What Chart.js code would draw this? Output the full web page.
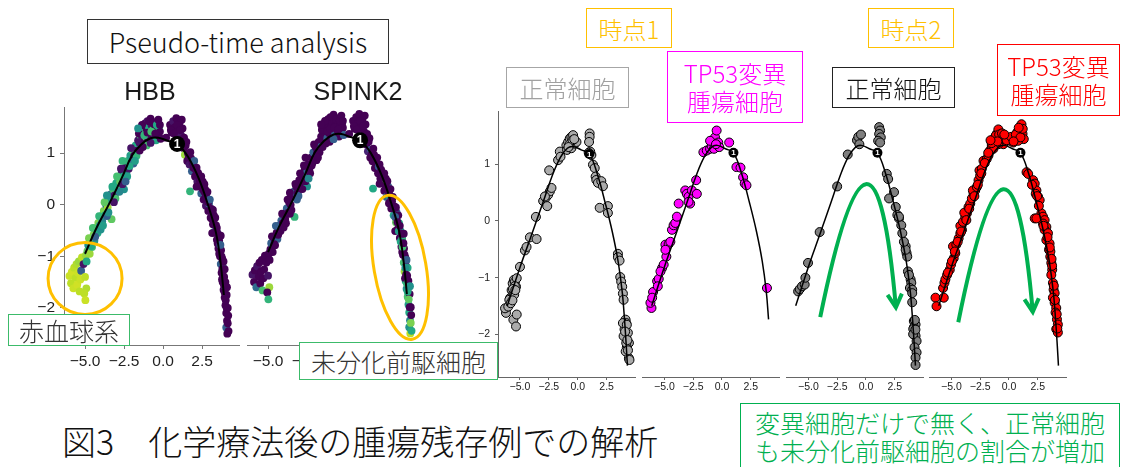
<!DOCTYPE html>
<html>
<head>
<meta charset="utf-8">
<script src="https://cdn.jsdelivr.net/npm/chart.js@4.4.1/dist/chart.umd.min.js"></script>
<style>
html, body { margin: 0; padding: 0; background: #fff; }
#page { position: relative; width: 1122px; height: 467px; overflow: hidden; font-family: "Noto Sans CJK JP", sans-serif; font-weight: 300; }
canvas { position: absolute; }
.box { position: absolute; box-sizing: border-box; display: flex; align-items: center; justify-content: center; text-align: center; background: #fff; white-space: nowrap; }
.lbl { position: absolute; white-space: nowrap; }
</style>
</head>
<body>
<div id="page">
  <canvas id="hbb" width="235" height="282" style="left:14px;top:93px"></canvas>
  <canvas id="spink2" width="195" height="282" style="left:237px;top:93px"></canvas>
  <canvas id="n1" width="173" height="301" style="left:468px;top:100px"></canvas>
  <canvas id="t1" width="148" height="301" style="left:637px;top:100px"></canvas>
  <canvas id="n2" width="148" height="301" style="left:781px;top:100px"></canvas>
  <canvas id="t2" width="148" height="301" style="left:924px;top:100px"></canvas>

  <div class="box" style="left:87px;top:19px;width:302px;height:45px;border:1px solid #333;font-size:27px;color:#111">Pseudo-time analysis</div>
  <div class="lbl" style="left:100px;top:79px;width:100px;text-align:center;font-family:'Liberation Sans';font-size:25px;line-height:25px;color:#1a1a1a">HBB</div>
  <div class="lbl" style="left:308px;top:79px;width:100px;text-align:center;font-family:'Liberation Sans';font-size:25px;line-height:25px;color:#1a1a1a">SPINK2</div>
  <div class="box" style="left:8px;top:314px;width:122px;height:32px;border:1.5px solid #3cbb6a;font-size:25px;color:#333">赤血球系</div>
  <div class="box" style="left:299px;top:342px;width:199px;height:38px;border:1.5px solid #3cbb6a;font-size:25px;color:#333">未分化前駆細胞</div>

  <div class="box" style="left:586px;top:8px;width:86px;height:40px;border:1px solid #ffc000;font-size:24px;color:#ffc000;background:transparent">時点1</div>
  <div class="box" style="left:868px;top:8px;width:86px;height:40px;border:1px solid #ffc000;font-size:24px;color:#ffc000;background:transparent">時点2</div>
  <div class="box" style="left:506px;top:67px;width:123px;height:41px;border:1.5px solid #a6a6a6;font-size:24px;color:#a0a0a0;background:transparent">正常細胞</div>
  <div class="box" style="left:667px;top:51px;width:136px;height:72px;border:1px solid #ff00ff;font-size:24px;line-height:28px;color:#ff00ff;background:transparent">TP53変異<br>腫瘍細胞</div>
  <div class="box" style="left:832px;top:67px;width:123px;height:41px;border:1.5px solid #222;font-size:24px;color:#111;background:transparent">正常細胞</div>
  <div class="box" style="left:997px;top:44px;width:123px;height:72px;border:1px solid #ff0000;font-size:24px;line-height:28px;color:#ff0000;background:transparent">TP53変異<br>腫瘍細胞</div>

  <div class="lbl" style="left:62px;top:421px;font-size:34px;line-height:40px;color:#111">図3　化学療法後の腫瘍残存例での解析</div>
  <div class="box" style="left:740px;top:403px;width:380px;height:70px;border:1px solid #00b050;font-size:25px;line-height:28px;color:#00b050;align-items:flex-start;padding-top:4px">変異細胞だけで無く、正常細胞<br>も未分化前駆細胞の割合が増加</div>
</div>

<script>
// ---- Feature plots: cells on the pseudo-time graph (shared embedding) ----
const leftCells = [
  [-6.0,-1.38],[-5.9,-1.52],[-5.85,-1.3],[-5.7,-1.22],[-5.75,-1.62],[-5.6,-1.42],[-5.55,-1.15],[-5.5,-1.55],[-5.45,-1.32],[-5.4,-1.1],
  [-5.35,-1.68],[-5.3,-1.45],[-5.25,-1.28],[-5.2,-1.02],[-4.92,-1.62],[-5.1,-1.15],[-5.05,-1.72],[-5.0,-1.4],[-4.98,-1.85],[-4.95,-0.98],
  [-4.85,-0.9],[-4.8,-0.78],[-4.7,-0.95],[-4.62,-0.68],[-4.55,-0.82],[-4.45,-0.58],[-4.4,-0.7],[-4.3,-0.45],[-4.2,-0.55],[-4.15,-0.35],
  [-4.05,-0.4],[-3.95,-0.22],[-3.9,-0.32],[-3.8,-0.12],[-3.7,-0.2],[-3.65,0.0],[-3.55,-0.05],[-3.45,0.12],[-3.3,-0.28],[-3.35,0.2],
  [-3.2,0.3],[-3.1,0.18],[-3.0,0.42],[-2.9,0.3],[-2.85,0.52],[-2.75,0.45],[-2.65,0.62],[-2.55,0.55],[-2.5,0.3],[-2.45,0.72],
  [-2.35,0.6],[-2.25,0.85],[-2.2,0.7],[-2.1,0.95],[-2.0,0.82],[-1.95,1.05],[-1.85,0.95],[-1.75,1.15],[-1.65,1.05],[-1.6,1.25],
  [-1.5,1.2],[-1.45,1.35],[-1.4,1.45],[-1.35,1.28],[-1.3,1.52],[-1.25,1.4],[-1.2,1.22],[-1.15,1.58],[-1.1,1.32],[-1.05,1.45],
  [-1.0,1.62],[-0.95,1.25],[-0.9,1.5],[-0.85,1.38],[-0.8,1.67],[-0.75,1.55],[-0.7,1.3],[-0.65,1.45],[-0.6,1.6],[-0.55,1.37],
  [-0.5,1.52],[-0.45,1.25],[-0.4,1.45],[-0.35,1.6],[-0.3,1.35],[-0.25,1.5],[-0.2,1.42],[-0.15,1.28],[-1.55,1.38],[-1.05,1.15],
  [0.45,1.55],[0.55,1.4],[0.65,1.62],[0.75,1.5],[0.85,1.68],[0.95,1.42],[1.05,1.58],[1.15,1.35],[1.2,1.65],[1.25,1.48],
  [1.3,1.1],[1.4,0.97],[1.45,1.15],[1.55,0.85],[1.6,1.0],[1.7,0.78],[1.73,0.26],[1.8,0.9],[1.85,0.65],[1.95,0.72],
  [2.05,0.55],[2.1,0.68],[2.2,0.45],[2.3,0.55],[2.5,0.38],[2.45,0.22],[2.55,0.45],[2.6,0.1],[2.65,0.25],[2.75,-0.02],
  [2.8,0.12],[2.9,-0.12],[2.95,0.02],[3.05,-0.25],[3.1,-0.08],[3.2,-0.38],[3.25,-0.2],[3.3,-0.52],[3.4,-0.4],[3.45,-0.68],
  [3.5,-0.55],[3.55,-0.85],[3.6,-0.7],[3.65,-1.0],[3.7,-1.15],[3.72,-0.88],[3.75,-1.32],[3.8,-1.05],[3.82,-1.5],[3.85,-1.22],
  [3.88,-1.65],[3.92,-1.4],[3.95,-1.8],[3.98,-1.58],[4.0,-1.95],[4.05,-2.1],[4.08,-1.75],[4.1,-2.25],[4.12,-2.5],[4.05,-2.38],
  [1.0,1.25],[0.2,1.3],[2.15,0.35],[2.7,0.3],[3.15,-0.55],[3.35,-0.25],[3.6,-0.95],[3.78,-1.45],[3.95,-1.25],[4.15,-2.0],
  [-4.6,-0.8],[-4.0,-0.48],[-3.6,-0.22],[-3.05,0.12],[-2.6,0.4],[-2.3,0.55],[-1.9,0.8],[-1.7,0.95],[-1.3,1.12],[-0.8,1.2],
  [1.35,1.3],[1.5,1.22],[1.65,0.92],[1.75,1.02],[1.9,0.82],[2.0,0.85],[2.15,0.72],[2.25,0.62],[2.35,0.48],[2.45,0.55],
  [2.55,0.3],[2.65,0.4],[2.75,0.18],[2.85,0.25],[2.9,0.05],[3.0,0.1],[3.05,-0.12],[3.15,-0.28],[3.2,-0.1],[3.3,-0.38],
  [3.38,-0.55],[3.45,-0.45],[3.5,-0.75],[3.58,-0.6],[3.62,-0.85],[3.68,-0.78],[3.75,-1.0],[3.8,-1.25],[3.85,-1.38],[3.9,-1.55],
  [3.95,-1.7],[4.0,-1.5],[4.02,-1.85],[4.08,-2.0],[4.1,-1.6],[4.15,-2.3],[4.18,-2.15],[4.2,-2.45],[3.7,-0.6],[3.88,-1.1],
  [-1.35,1.55],[-1.2,1.35],[-1.0,1.4],[-0.9,1.62],[-0.75,1.42],[-0.65,1.58],[-0.5,1.38],[-0.4,1.55],[-0.3,1.65],[-0.2,1.55],
  [0.5,1.45],[0.7,1.38],[0.9,1.55],[1.1,1.45],[-1.6,1.48],
  [-4.9,-1.1],[-4.75,-0.65],[-4.5,-0.45],[-4.35,-0.62],[-4.1,-0.22],[-3.85,-0.4],[-3.75,0.05],[-3.5,-0.15],[-3.25,0.35],[-3.15,0.05],
  [-2.95,0.55],[-2.8,0.25],[-2.7,0.7],[-2.4,0.45],[-2.15,0.75],[-2.05,1.1],[-1.8,0.85],[-1.5,1.05],[-2.6,0.85],[-3.6,0.18]
];
// Scaled expression per cell (0 = low, 1 = high)
const hbbExpr = [
  .92,.9,.93,.9,.92,.9,.88,.93,.92,.85,
  .9,.92,.3,.9,.88,.05,.9,.9,.92,.85,
  .75,.5,.85,.45,.7,.8,.5,.75,.6,.8,
  .55,.7,.45,.8,.6,.4,.85,.55,.75,.3,
  .7,.05,.6,.65,.55,.75,.05,.6,.5,0,
  .5,.65,.05,.55,.05,.7,0,.6,0,.05,
  .05,.7,0,.05,0,.65,0,0,.72,0,
  .05,0,.6,0,0,.05,0,.7,0,.05,
  0,.6,0,.05,0,.65,0,0,0,.7,
  0,0,.05,0,0,0,0,.05,0,0,
  0,.85,0,0,0,.05,.65,0,.3,0,
  0,0,.05,0,0,.3,0,0,0,.05,
  0,0,.3,0,0,0,0,.3,0,0,
  .05,0,0,0,.3,0,0,0,0,.3,
  0,0,0,.3,0,0,0,0,0,.3,
  0,0,0,0,0,0,0,0,0,0,
  .6,.5,.3,.7,.05,.55,.3,.65,0,.05,
  0,0,0,0,0,.3,0,0,0,0,
  0,0,0,0,0,.3,0,0,0,0,
  0,0,0,0,0,.3,0,0,0,0,
  0,0,0,0,0,0,0,0,0,0,
  0,.65,0,0,.7,0,0,.6,0,0,
  0,0,0,0,.5,
  .6,.8,.7,.3,.65,.55,.75,.5,.6,.05,
  .7,.45,.05,.3,.6,.05,.55,0,.65,.5
];
const spink2Expr = [
  .05,0,0,.05,.35,0,0,0,0,0,
  .7,0,0,0,.85,0,0,.05,.65,0,
  0,.3,0,0,0,0,.3,0,0,.3,
  0,0,0,.3,0,0,0,0,.65,.3,
  0,0,0,0,0,0,0,.3,.5,0,
  0,0,0,.3,0,0,0,0,.3,0,
  0,0,0,0,0,0,.3,0,0,0,
  0,0,0,0,0,0,.3,0,0,0,
  0,0,0,0,0,0,0,.3,0,0,
  0,0,0,0,0,0,0,0,0,0,
  0,.1,0,0,.3,0,.6,0,0,0,
  0,.3,0,0,.75,0,0,.3,0,0,
  .6,0,0,.55,0,.75,.3,0,.6,0,
  .5,0,.65,0,.7,0,.85,0,.6,0,
  .5,0,.7,.3,.55,.6,0,.45,.9,.5,
  0,0,0,.3,0,0,0,0,.6,0,
  0,0,0,.3,0,0,0,0,0,.3,
  0,0,0,0,0,0,0,0,0,0,
  0,0,0,0,0,0,0,.3,0,0,
  .55,0,.6,0,.7,0,0,.5,0,.65,
  .6,0,.75,0,.5,.8,0,.6,0,.3,
  0,0,0,0,0,0,0,0,0,0,
  0,0,0,0,0,
  0,0,.3,0,0,0,0,0,0,.3,
  0,0,0,.45,0,0,0,0,0,0
];
const leftCurve = [
  [-5.0,-0.95],[-4.3,-0.47],[-3.4,0.05],[-2.6,0.55],[-2.0,0.95],[-1.4,1.17],[-0.8,1.29],[-0.3,1.3],
  [0.3,1.24],[0.9,1.18],[1.6,0.93],[2.3,0.5],[2.9,-0.02],[3.4,-0.55],[3.7,-1.15],[3.9,-1.75]
];
const leftNode = [0.9, 1.18];

// ---- Trajectory by sample: time point 1 / time point 2 ----
const normalCellsT1 = [
  [-6.21,-1.62],[-6.29,-1.54],[-6.01,-1.51],[-5.86,-1.36],[-5.92,-1.39],[-5.57,-1.74],[-5.28,-1.65],[-5.34,-1.86],[-5.72,-1.22],[-5.63,-1.10],
  [-5.52,-1.04],[-5.43,-1.07],[-5.28,-1.01],[-5.34,-1.16],[-5.57,-1.28],[-5.80,-1.45],[-5.0,-0.81],[-4.57,-0.52],[-4.43,-0.46],[-4.14,-0.29],
  [-3.56,-0.32],[-3.62,0.07],[-2.99,0.35],[-2.76,0.41],[-2.56,0.46],[-2.64,0.26],[-2.41,0.52],[-2.27,0.58],[-2.84,0.43],[-2.47,0.89],
  [-1.70,1.07],[-1.55,1.22],[-1.49,1.13],[-0.98,1.33],[-0.83,1.39],[-0.69,1.45],[-0.55,1.48],[-0.40,1.51],[-0.92,1.25],[-0.55,1.28],
  [-0.26,1.36],[-0.11,1.39],[1.03,1.54],[1.03,1.48],[0.98,1.39],[1.03,1.19],[1.18,1.16],[1.32,0.99],[1.47,0.93],[1.55,0.78],
  [1.61,0.72],[1.75,0.67],[2.04,0.70],[2.18,0.61],[1.90,0.23],[2.61,0.26],[2.61,0.14],[3.48,-0.58],[3.48,-0.64],[3.62,-0.70],
  [3.68,-0.99],[3.76,-1.07],[3.85,-1.16],[3.91,-1.28],[3.97,-1.39],[4.14,-1.74],[4.20,-1.80],[4.05,-1.91],[4.20,-2.03],[4.34,-1.97],
  [4.43,-2.15],[4.25,-2.23],[4.43,-2.42],[4.48,-2.45],[3.97,-2.03],[4.20,-2.15],[3.91,-1.80],[4.25,-1.83],
  [-5.45,-1.15],[-5.6,-1.2],[-5.5,-1.3],[-5.65,-1.4],[-5.4,-1.22],[-0.7,1.35],[-0.45,1.42],[-0.8,1.3],[-0.3,1.44],[1.08,1.22],
  [0.95,1.2],[4.1,-1.95],[4.3,-2.1],[4.15,-2.3],[4.35,-2.28]
];
const tp53CellsT1 = [
  [-6.12,-1.54],[-6.21,-1.45],[-5.98,-1.26],[-6.06,-1.36],[-5.63,-1.07],[-5.49,-1.03],[-5.57,-1.16],[-5.20,-0.84],[-5.06,-0.78],[-4.83,-0.64],
  [-4.91,-0.43],[-4.63,-0.42],[-4.48,-0.38],[-4.34,-0.17],[-4.20,-0.09],[-4.05,-0.05],[-3.91,0.06],[-3.76,0.29],[-3.19,0.52],[-3.05,0.46],
  [-2.90,0.41],[-2.76,0.29],[-2.61,0.52],[-2.18,0.46],[-2.24,0.70],[-1.61,1.19],[-1.32,1.22],[-1.03,1.25],[-0.89,1.30],[-0.75,1.39],
  [-0.60,1.45],[-0.46,1.57],[-0.32,1.36],[-0.69,1.25],[-0.23,1.28],[0.63,1.36],[1.26,0.93],[1.61,0.92],[1.84,0.75],[1.98,0.64],
  [2.13,0.61],[3.91,-1.19],[-5.34,-0.90],[-2.90,0.32],[-4.91,-0.52],[-1.03,1.39],[-0.52,1.33]
];
const normalCellsT2 = [
  [-5.89,-1.25],[-5.75,-1.21],[-5.55,-1.16],[-5.32,-1.13],[-5.26,-1.01],[-5.03,-0.75],[-4.02,-0.21],[-2.5,0.59],[-1.58,1.15],[-0.78,1.40],
  [-0.66,1.46],[-0.43,1.50],[-0.57,1.33],[1.15,1.63],[1.23,1.57],[1.15,1.51],[1.29,1.45],[1.06,1.39],[1.23,1.36],[1.81,0.81],
  [1.93,0.72],[2.44,0.49],[2.01,0.38],[2.59,0.23],[2.73,0.09],[2.87,0.03],[3.07,-0.09],[3.16,-0.23],[3.45,-0.46],[3.53,-0.58],
  [3.59,-0.64],[3.45,-0.52],[3.65,-0.90],[3.88,-1.04],[3.94,-1.10],[3.82,-1.19],[4.02,-1.22],[4.02,-1.44],[4.16,-1.77],[4.31,-1.83],
  [4.16,-1.88],[4.22,-1.97],[4.31,-2.03],[4.40,-2.12],[4.22,-2.23],[4.40,-2.32],[4.31,-2.41],[4.31,-2.54],[4.11,-1.91],[4.02,-1.28],
  [3.74,-0.96],[3.30,-0.38],[2.87,0.06],[4.25,-1.75],[4.1,-2.0],[4.3,-1.92]
];
const tp53CellsT2 = [
  [-6.38,-1.36],[-6.29,-1.51],[-5.66,-1.36],[-5.72,-1.19],[-5.60,-1.10],[-5.52,-1.04],[-5.37,-0.96],[-5.14,-0.87],[-5.03,-0.78],[-4.80,-0.67],
  [-4.66,-0.58],[-4.86,-0.46],[-4.57,-0.43],[-4.37,-0.32],[-4.22,-0.23],[-4.08,-0.17],[-4.22,-0.10],[-3.99,-0.03],[-3.79,0.06],[-3.65,0.12],
  [-3.88,0.13],[-3.51,0.23],[-3.36,0.29],[-3.22,0.38],[-3.07,0.46],[-2.93,0.52],[-3.13,0.52],[-2.79,0.58],[-2.64,0.70],[-2.50,0.78],
  [-2.56,0.87],[-2.36,0.90],[-2.21,1.04],[-1.93,1.07],[-1.78,1.13],[-1.64,1.22],[-1.49,1.30],[-1.35,1.39],[-1.21,1.45],[-1.06,1.51],
  [-0.92,1.59],[-0.78,1.45],[-0.63,1.39],[-0.49,1.33],[-0.92,1.33],[-1.35,1.25],[-0.34,1.42],[0.09,1.39],[0.37,1.36],[0.52,1.45],
  [0.72,1.54],[0.95,1.57],[1.09,1.68],[1.18,1.51],[1.29,1.42],[0.80,1.39],[1.53,0.84],[1.67,0.81],[2.10,0.70],[2.24,0.64],
  [2.39,0.52],[2.33,0.46],[2.53,0.41],[2.67,0.35],[2.24,0.03],[2.82,0.12],[2.96,0.06],[3.10,0.0],[2.96,-0.06],[3.25,-0.12],
  [3.10,-0.17],[3.39,-0.23],[3.25,-0.35],[3.53,-0.41],[3.48,-0.52],[3.59,-0.64],[3.68,-0.75],[3.76,-0.87],[3.68,-0.96],[3.82,-1.10],
  [3.88,-1.22],[3.97,-1.28],[3.82,-1.36],[3.97,-1.45],[4.11,-1.54],[4.05,-1.62],[4.17,-1.74],[4.25,-1.83],[4.11,-1.91],[4.25,-1.97],
  [2.39,0.03],[-5.3,-0.92],[-4.95,-0.72],[-4.7,-0.55],[-4.45,-0.38],[-4.15,-0.2],[-3.7,0.0],[-3.45,0.2],[-3.0,0.42],[-2.7,0.62],
  [-2.4,0.82],[-2.1,1.0],[-1.8,1.18],[-1.5,1.35],[-1.15,1.48],[-0.85,1.5],[-0.6,1.52],[-0.2,1.4],[0.2,1.46],[0.6,1.5],
  [1.0,1.45],[1.2,1.6],[0.85,1.62],[2.0,0.62],[2.6,0.25],[3.0,-0.1],[3.35,-0.3],[3.6,-0.55],[3.75,-0.8],[3.9,-1.15],
  [4.0,-1.4],[4.15,-1.65],[4.2,-1.9],[-1.0,1.38],[-0.4,1.5],[0.4,1.38],[3.7,-0.68],[3.55,-0.48],[2.45,0.42],[-1.6,1.4]
];
const rightCurve = [
  [-6.1,-1.5],[-5.0,-0.82],[-4.0,-0.25],[-3.0,0.33],[-2.2,0.8],[-1.5,1.12],[-0.9,1.28],[-0.4,1.31],[0.3,1.25],
  [1.0,1.18],[1.7,0.82],[2.4,0.3],[3.0,-0.2],[3.5,-0.72],[3.85,-1.25],[4.05,-1.74],[4.2,-2.2],[4.3,-2.55]
];
const rightCurveShort = rightCurve.slice(0, 16);
const rightNode = [1.0, 1.18];

// Axis ticks
const xTickValues = [-5, -2.5, 0, 2.5];
const xTickLabels = ['\u22125.0', '\u22122.5', '0.0', '2.5'];
const yTickValues = [-2, -1, 0, 1];
const yTickLabels = ['\u22122', '\u22121', '0', '1'];

// ---- helpers ----
const VIRIDIS = ['#440154','#482475','#414487','#355f8d','#2a788e','#21918c','#22a884','#44bf70','#7ad151','#bddf26','#fde725'];
function hexRgb(h) { return [1, 3, 5].map(i => parseInt(h.slice(i, i + 2), 16)); }
function viridis(t) {
  const s = Math.max(0, Math.min(1, t)) * 10;
  const i = Math.min(9, Math.floor(s)), f = s - i;
  const a = hexRgb(VIRIDIS[i]), b = hexRgb(VIRIDIS[i + 1]);
  const c = a.map((v, k) => Math.round(v + (b[k] - v) * f));
  return `rgb(${c[0]},${c[1]},${c[2]})`;
}
const pts = arr => arr.map(([x, y]) => ({ x, y }));

Chart.defaults.font.family = "'Liberation Sans', Arial, sans-serif";

function overlay(opts) {
  return {
    id: 'overlay',
    afterDatasetsDraw(chart) {
      const ctx = chart.ctx, sx = chart.scales.x, sy = chart.scales.y;
      const px = v => sx.getPixelForValue(v), py = v => sy.getPixelForValue(v);
      ctx.save();
      if (opts.node) {
        ctx.fillStyle = '#fff';
        ctx.font = `bold ${opts.node.font}px 'Liberation Sans', Arial, sans-serif`;
        ctx.textAlign = 'center';
        ctx.textBaseline = 'middle';
        ctx.fillText('1', px(opts.node.at[0]), py(opts.node.at[1]) + 0.5);
      }
      (opts.ellipses || []).forEach(e => {
        ctx.beginPath();
        ctx.ellipse(px(e.at[0]), py(e.at[1]), e.rx, e.ry, e.rot, 0, Math.PI * 2);
        ctx.strokeStyle = '#ffc000';
        ctx.lineWidth = 3;
        ctx.stroke();
      });
      (opts.arrows || []).forEach(a => {
        const S = [px(a.from[0]), py(a.from[1])];
        const P = [px(a.peak[0]), py(a.peak[1])];
        const T = [px(a.to[0]), py(a.to[1])];
        const C = [2 * P[0] - (S[0] + T[0]) / 2, 2 * P[1] - (S[1] + T[1]) / 2];
        ctx.strokeStyle = '#00b050';
        ctx.lineWidth = 4;
        ctx.lineCap = 'butt';
        ctx.lineJoin = 'miter';
        ctx.beginPath();
        ctx.moveTo(S[0], S[1]);
        ctx.quadraticCurveTo(C[0], C[1], T[0], T[1]);
        ctx.stroke();
        const ang = Math.atan2(T[1] - C[1], T[0] - C[0]);
        const L = 15, spread = 0.5;
        ctx.beginPath();
        ctx.moveTo(T[0] - L * Math.cos(ang - spread), T[1] - L * Math.sin(ang - spread));
        ctx.lineTo(T[0], T[1]);
        ctx.lineTo(T[0] - L * Math.cos(ang + spread), T[1] - L * Math.sin(ang + spread));
        ctx.stroke();
      });
      ctx.restore();
    }
  };
}

function panel(id, g) {
  const xAxis = {
    type: 'linear', min: g.xMin, max: g.xMax,
    afterBuildTicks: s => { s.ticks = xTickValues.map(v => ({ value: v })); },
    afterFit: s => { s.height = g.xAxisH; },
    ticks: { callback: (v, i) => xTickLabels[i], font: { size: g.tickFont }, color: '#222', padding: g.xPad, maxRotation: 0, autoSkip: false },
    grid: { drawOnChartArea: false, drawTicks: true, tickLength: g.tickLen, color: g.axisColor },
    border: { display: true, color: g.axisColor, width: 1 }
  };
  const yAxis = {
    type: 'linear', min: g.yMin, max: g.yMax, display: g.showY,
    afterBuildTicks: s => { s.ticks = yTickValues.map(v => ({ value: v })); },
    ticks: { callback: (v, i) => yTickLabels[i], font: { size: g.tickFont }, color: '#222', padding: g.yPad, autoSkip: false },
    grid: { drawOnChartArea: false, drawTicks: true, tickLength: g.tickLen, color: g.axisColor },
    border: { display: true, color: g.axisColor, width: 1 }
  };
  if (g.showY) yAxis.afterFit = s => { s.width = g.yAxisW; };
  return new Chart(document.getElementById(id), {
    type: 'scatter',
    data: {
      datasets: [
        { data: pts([g.node]), pointRadius: g.nodeR, backgroundColor: '#000', borderWidth: 0, order: 0, clip: false },
        { data: pts(g.curve), showLine: true, tension: 0.4, borderColor: '#000', borderWidth: g.lineW, pointRadius: 0, order: 1, clip: false },
        { data: pts(g.cells), pointRadius: g.r, backgroundColor: g.fill, borderColor: g.stroke || 'transparent',
          borderWidth: g.stroke ? 1 : 0, order: 2, clip: false }
      ]
    },
    options: {
      responsive: false, animation: false, devicePixelRatio: 1, events: [],
      layout: { padding: g.padding },
      plugins: { legend: { display: false }, tooltip: { enabled: false } },
      scales: { x: xAxis, y: yAxis }
    },
    plugins: [overlay({ node: { at: g.node, font: g.nodeFont }, ellipses: g.ellipses, arrows: g.arrows })]
  });
}

const leftBase = {
  xMin: -6.35, xMax: 4.87, yMin: -2.72, yMax: 1.89, xAxisH: 30, yAxisW: 50,
  tickFont: 15.5, tickLen: 4, xPad: 3, yPad: 5, axisColor: '#777',
  curve: leftCurve, node: leftNode, nodeR: 8, nodeFont: 12, lineW: 2, r: 3.9, cells: leftCells
};
const rightBase = {
  xMin: -6.9, xMax: 5.0, yMin: -2.75, yMax: 1.93, xAxisH: 24, yAxisW: 30,
  tickFont: 10.5, tickLen: 3, xPad: 1, yPad: 5, axisColor: '#666',
  curve: rightCurve, node: rightNode, nodeR: 5, nodeFont: 8, lineW: 1.5, r: 4.5, stroke: '#000'
};

panel('hbb', Object.assign({}, leftBase, {
  showY: true, padding: { top: 10, right: 10, left: 0, bottom: 0 },
  fill: hbbExpr.map(viridis),
  ellipses: [{ at: [-5.0, -1.43], rx: 37, ry: 36, rot: 0 }]
}));
panel('spink2', Object.assign({}, leftBase, {
  showY: false, padding: { top: 10, right: 10, left: 10, bottom: 0 },
  fill: spink2Expr.map(viridis),
  ellipses: [{ at: [3.46, -1.24], rx: 26, ry: 73, rot: -0.17 }]
}));
panel('n1', Object.assign({}, rightBase, {
  showY: true, padding: { top: 10, right: 5, left: 0, bottom: 0 },
  cells: normalCellsT1, fill: '#ababab'
}));
panel('t1', Object.assign({}, rightBase, {
  showY: false, padding: { top: 10, right: 5, left: 5, bottom: 0 },
  cells: tp53CellsT1, fill: '#ff00ff', curve: rightCurveShort
}));
panel('n2', Object.assign({}, rightBase, {
  showY: false, padding: { top: 10, right: 5, left: 5, bottom: 0 },
  cells: normalCellsT2, fill: '#7f7f7f',
  arrows: [{ from: [-3.97, -1.70], peak: [0.0, 0.63], to: [2.6, -1.53] }]
}));
panel('t2', Object.assign({}, rightBase, {
  showY: false, padding: { top: 10, right: 5, left: 5, bottom: 0 },
  cells: tp53CellsT2, fill: '#ff0000',
  arrows: [{ from: [-4.4, -1.79], peak: [-0.5, 0.54], to: [2.07, -1.61] }]
}));
</script>
</body>
</html>
